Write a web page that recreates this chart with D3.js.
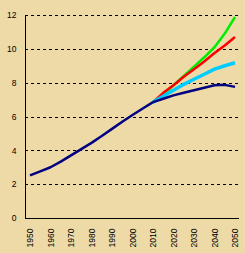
<!DOCTYPE html>
<html>
<head>
<meta charset="utf-8">
<script src="https://cdn.jsdelivr.net/npm/d3@7"></script>
<style>
	body{margin:0;background:#eedaa6;}
	svg text{font-family:"Liberation Sans",Arial,sans-serif;font-size:8.5px;fill:#000;}
</style>
</head>
<body>
<svg class="chart" width="245" height="253"></svg>
<script>
// world population, billions
var pastYears = [1950,1955,1960,1965,1970,1975,1980,1985,1990,1995,2000,2005,2010];
var pastValues = [2.52,2.76,3.00,3.33,3.70,4.07,4.44,4.85,5.27,5.69,6.09,6.47,6.85];

var projYears = [2010,2015,2020,2025,2030,2035,2040,2045,2050];
var lowValues = [6.85,7.05,7.25,7.40,7.55,7.70,7.85,7.87,7.75];
var mediumValues = [6.85,7.20,7.55,7.90,8.20,8.50,8.80,9.00,9.18];
var highValues = [6.85,7.40,7.85,8.35,8.80,9.25,9.75,10.20,10.70];
var constantValues = [6.85,7.30,7.85,8.40,8.95,9.50,10.10,10.90,11.88];

var xTicks = [1950,1960,1970,1980,1990,2000,2010,2020,2030,2040,2050];
var yTicks = [0,2,4,6,8,10,12];

var chart = d3.select('.chart');

// papyrus-ish background
chart.append('rect').attr('width',245).attr('height',253).attr('fill','#eedaa6');

var x = d3.scaleLinear().domain([1950,2050]).range([30,235]);
var y = d3.scaleLinear().domain([0,12]).range([218,15]);

// grid
chart.selectAll('.grid')
	.data(yTicks.filter(function(d){ return d > 0 }))
	.enter().append('line')
	.attr('class','grid')
	.attr('x1',25).attr('x2',239)
	.attr('y1',function(d){ return Math.round(y(d)) + 0.5 })
	.attr('y2',function(d){ return Math.round(y(d)) + 0.5 })
	.attr('stroke','#000')
	.attr('stroke-width',1)
	.attr('stroke-dasharray','3,3');

// axes
var yAxis = d3.axisLeft(y).tickValues(yTicks).tickSize(0).tickPadding(9);
var gy = chart.append('g').attr('transform','translate(25.5,0)').call(yAxis);
gy.select('.domain').attr('stroke','#000').attr('d','M0,15V218.5');

var xAxis = d3.axisBottom(x).tickValues(xTicks).tickSize(0).tickFormat(d3.format('d'));
var gx = chart.append('g').attr('transform','translate(0,218.5)').call(xAxis);
gx.select('.domain').attr('stroke','#000').attr('d','M25,0H239');
gx.selectAll('.tick text')
	.attr('transform','rotate(-90)')
	.attr('x',-10).attr('y',0).attr('dy','0.35em')
	.style('text-anchor','end');

var line = d3.line()
	.x(function(d){ return x(d[0]) })
	.y(function(d){ return y(d[1]) });

function pairs(years, vals){
	return years.map(function(yr,i){ return [yr, vals[i]] });
}

var series = [
	{vals: constantValues, color:'#00ee00', w:2.5},
	{vals: highValues, color:'#ff0000', w:2.5},
	{vals: mediumValues, color:'#00ccff', w:3.5},
	{vals: lowValues, color:'#000080', w:2.5}
];

series.forEach(function(s){
	chart.append('path')
		.datum(pairs(projYears, s.vals))
		.attr('fill','none')
		.attr('stroke', s.color)
		.attr('stroke-width', s.w)
		.attr('stroke-linejoin','round')
		.attr('d', line);
});

chart.append('path')
	.datum(pairs(pastYears, pastValues))
	.attr('fill','none')
	.attr('stroke','#000080')
	.attr('stroke-width',2.5)
	.attr('stroke-linejoin','round')
	.attr('d', line);
</script>
</body>
</html>
